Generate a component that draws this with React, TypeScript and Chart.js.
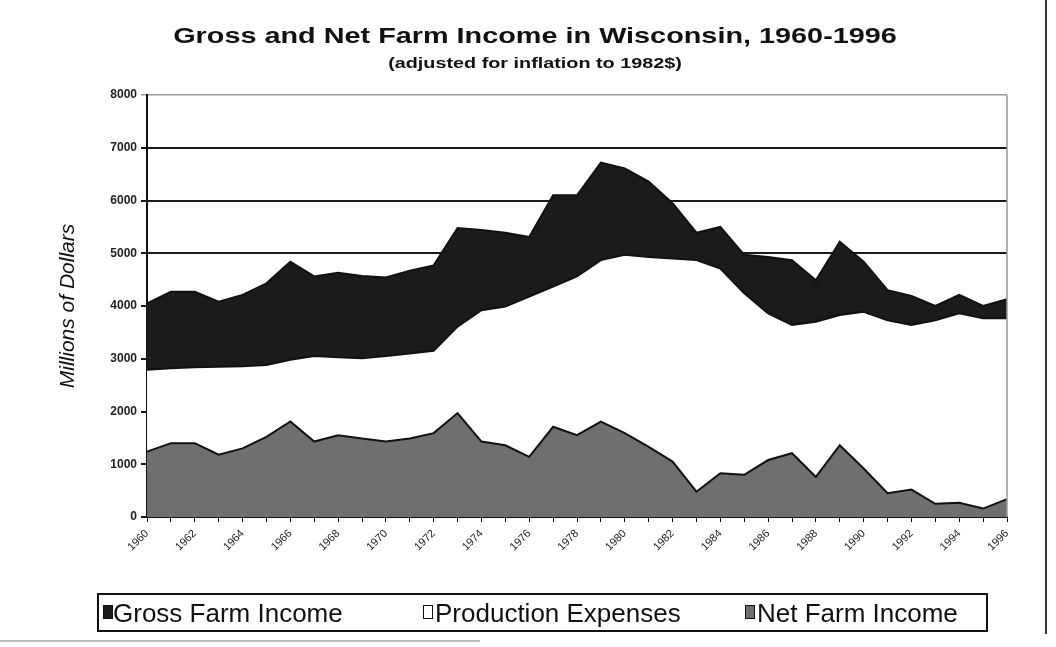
import React, { useEffect, useRef } from "react";
import { Chart, registerables } from "chart.js";

Chart.register(...registerables);

const years = [
  "1960", "1961", "1962", "1963", "1964", "1965", "1966", "1967", "1968", "1969",
  "1970", "1971", "1972", "1973", "1974", "1975", "1976", "1977", "1978", "1979",
  "1980", "1981", "1982", "1983", "1984", "1985", "1986", "1987", "1988", "1989",
  "1990", "1991", "1992", "1993", "1994", "1995", "1996",
];

const grossFarmIncome = [
  4050, 4270, 4270, 4080, 4210, 4430, 4840, 4560, 4630, 4570,
  4540, 4670, 4770, 5480, 5440, 5390, 5310, 6100, 6100, 6720,
  6610, 6360, 5950, 5390, 5500, 4970, 4930, 4870, 4490, 5220,
  4840, 4300, 4190, 4000, 4210, 4000, 4130,
];

const productionExpenses = [
  2790, 2820, 2840, 2850, 2860, 2880, 2980, 3050, 3030, 3010,
  3050, 3100, 3150, 3610, 3920, 3990, 4180, 4370, 4560, 4870,
  4970, 4930, 4900, 4870, 4710, 4240, 3860, 3640, 3700, 3830,
  3890, 3730, 3640, 3730, 3860, 3770, 3770,
];

const netFarmIncome = [
  1240, 1400, 1400, 1180, 1300, 1520, 1810, 1430, 1550, 1490,
  1430, 1490, 1590, 1970, 1430, 1360, 1140, 1710, 1550, 1810,
  1590, 1330, 1050, 480, 830, 800, 1080, 1210, 760, 1360,
  920, 450, 520, 250, 270, 160, 340,
];

const seriesNames = ["Gross Farm Income", "Production Expenses", "Net Farm Income"];
const seriesColors = ["#1b1b1b", "#ffffff", "#6f6f6f"];

const titleText = "Gross and Net Farm Income in Wisconsin, 1960-1996";
const subtitleText = "(adjusted for inflation to 1982$)";
const yAxisTitle = "Millions of Dollars";

const FONT = "'Liberation Sans', Arial, sans-serif";

const rightBorder = {
  id: "rightBorder",
  afterDraw(chart: any) {
    const { ctx, chartArea } = chart;
    ctx.save();
    ctx.strokeStyle = "#9a9a9a";
    ctx.lineWidth = 1.5;
    ctx.beginPath();
    ctx.moveTo(chartArea.right, chartArea.top);
    ctx.lineTo(chartArea.right, chartArea.bottom);
    ctx.stroke();
    ctx.restore();
  },
};

export default function App() {
  const canvasRef = useRef<HTMLCanvasElement | null>(null);

  useEffect(() => {
    if (!canvasRef.current) return;
    const mk = (i: number, data: number[], order: number) => ({
      label: seriesNames[i],
      data,
      backgroundColor: seriesColors[i],
      borderColor: "#111",
      borderWidth: 2,
      fill: "origin",
      pointRadius: 0,
      tension: 0,
      order,
    });
    const chart = new Chart(canvasRef.current, {
      type: "line",
      data: {
        labels: years,
        datasets: [
          mk(0, grossFarmIncome, 3),
          mk(1, productionExpenses, 2),
          mk(2, netFarmIncome, 1),
        ] as any,
      },
      options: {
        responsive: false,
        animation: false,
        layout: { padding: { left: 56, right: 49, top: 95, bottom: 85 } },
        plugins: {
          legend: { display: false },
          tooltip: { enabled: false },
        },
        scales: {
          x: {
            offset: false,
            border: { color: "#111", width: 2 },
            grid: { display: true, drawOnChartArea: false, tickLength: 5, color: "#111" },
            ticks: {
              autoSkip: false,
              maxRotation: 45,
              minRotation: 45,
              color: "#222",
              font: { family: FONT, size: 11 },
              padding: 5,
              callback: (_v: any, i: number) => (i % 2 === 0 ? years[i] : ""),
            },
            afterFit: (scale: any) => {
              scale.height = 45;
            },
          },
          y: {
            min: 0,
            max: 8000,
            border: { color: "#111", width: 2 },
            grid: {
              color: (c: any) => (c.tick && c.tick.value === 8000 ? "#9a9a9a" : "#1a1a1a"),
              lineWidth: (c: any) => (c.tick && c.tick.value === 8000 ? 1.5 : 2),
              tickLength: 6,
            },
            ticks: {
              stepSize: 1000,
              color: "#222",
              font: { family: FONT, size: 12, weight: "bold" },
              padding: 4,
              callback: (v: any) => String(v),
            },
            title: {
              display: true,
              text: yAxisTitle,
              color: "#111",
              font: { family: FONT, size: 21, style: "italic" },
              padding: { top: 0, bottom: 0 },
            },
            afterFit: (scale: any) => {
              scale.width = 91;
            },
          },
        },
      },
      plugins: [rightBorder],
    });
    return () => chart.destroy();
  }, []);

  const legendText: React.CSSProperties = {
    position: "absolute",
    top: 0,
    height: 35,
    lineHeight: "37px",
    fontFamily: FONT,
    fontSize: 26,
    color: "#111",
    whiteSpace: "nowrap",
  };
  const sq = (bg: string, left: number): React.CSSProperties => ({
    position: "absolute",
    left,
    top: 10,
    width: 10,
    height: 14,
    background: bg,
    border: "1.5px solid #111",
    boxSizing: "border-box",
  });
  const heading = (size: number, top: number, scale: number): React.CSSProperties => ({
    position: "absolute",
    left: 535,
    top,
    fontFamily: FONT,
    fontWeight: "bold",
    fontSize: size,
    lineHeight: 1,
    color: "#111",
    whiteSpace: "nowrap",
    transform: `translateX(-50%) scaleX(${scale})`,
  });

  return (
    <div style={{ position: "fixed", left: 0, top: 0, width: 1056, height: 647, background: "#fff", overflow: "hidden" }}>
      <canvas ref={canvasRef} width={1056} height={647} style={{ display: "block" }} />
      <div style={heading(22, 25, 1.31)}>{titleText}</div>
      <div style={heading(15, 55, 1.32)}>{subtitleText}</div>
      <div
        style={{
          position: "absolute",
          left: 97,
          top: 593,
          width: 891,
          height: 39,
          border: "2px solid #111",
          boxSizing: "border-box",
        }}
      >
        <div style={sq(seriesColors[0], 4)} />
        <div style={{ ...legendText, left: 14 }}>{seriesNames[0]}</div>
        <div style={sq(seriesColors[1], 324)} />
        <div style={{ ...legendText, left: 336 }}>{seriesNames[1]}</div>
        <div style={sq(seriesColors[2], 646)} />
        <div style={{ ...legendText, left: 658 }}>{seriesNames[2]}</div>
      </div>
      <div style={{ position: "absolute", left: 1045, top: 0, width: 2, height: 634, background: "#333" }} />
      <div style={{ position: "absolute", left: 0, top: 640, width: 480, height: 2, background: "#bbb" }} />
    </div>
  );
}
